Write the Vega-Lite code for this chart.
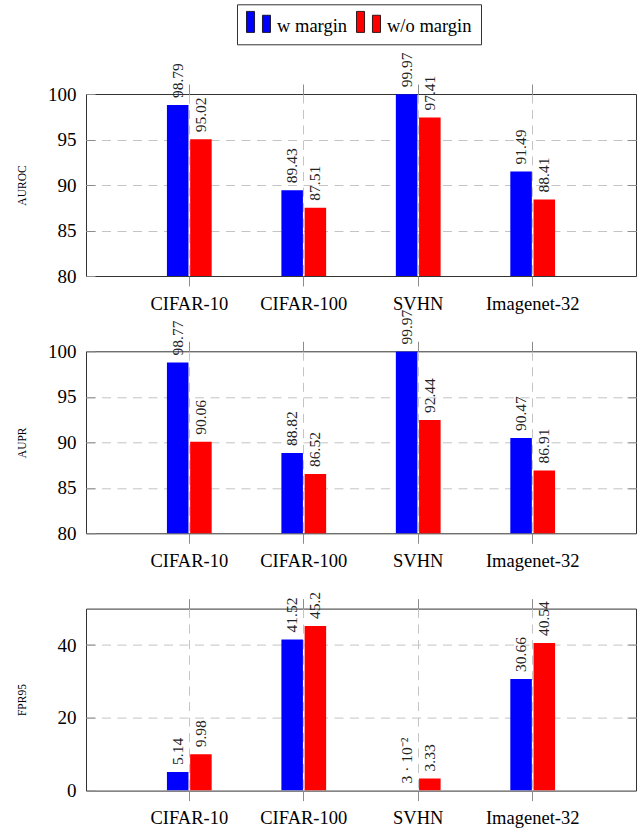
{
  "$schema": "https://vega.github.io/schema/vega-lite/v6.json",
  "padding": {"left": 15, "top": 3, "right": 5, "bottom": 5},
  "bounds": "flush",
  "spacing": 75.3,
  "config": {
    "font": "Liberation Serif",
    "view": {"stroke": "#333333", "strokeWidth": 1},
    "axis": {"labelColor": "black", "titleColor": "black", "titleFontWeight": "normal", "labelFont": "Liberation Serif", "titleFont": "Liberation Serif"},
    "legend": {"labelFont": "Liberation Serif"},
    "text": {"font": "Liberation Serif"}
  },
  "data": {
    "values": [
      {"metric": "AUROC", "dataset": "CIFAR-10", "method": "w margin", "value": 98.79, "label": "98.79"},
      {"metric": "AUROC", "dataset": "CIFAR-10", "method": "w/o margin", "value": 95.02, "label": "95.02"},
      {"metric": "AUROC", "dataset": "CIFAR-100", "method": "w margin", "value": 89.43, "label": "89.43"},
      {"metric": "AUROC", "dataset": "CIFAR-100", "method": "w/o margin", "value": 87.51, "label": "87.51"},
      {"metric": "AUROC", "dataset": "SVHN", "method": "w margin", "value": 99.97, "label": "99.97"},
      {"metric": "AUROC", "dataset": "SVHN", "method": "w/o margin", "value": 97.41, "label": "97.41"},
      {"metric": "AUROC", "dataset": "Imagenet-32", "method": "w margin", "value": 91.49, "label": "91.49"},
      {"metric": "AUROC", "dataset": "Imagenet-32", "method": "w/o margin", "value": 88.41, "label": "88.41"},
      {"metric": "AUPR", "dataset": "CIFAR-10", "method": "w margin", "value": 98.77, "label": "98.77"},
      {"metric": "AUPR", "dataset": "CIFAR-10", "method": "w/o margin", "value": 90.06, "label": "90.06"},
      {"metric": "AUPR", "dataset": "CIFAR-100", "method": "w margin", "value": 88.82, "label": "88.82"},
      {"metric": "AUPR", "dataset": "CIFAR-100", "method": "w/o margin", "value": 86.52, "label": "86.52"},
      {"metric": "AUPR", "dataset": "SVHN", "method": "w margin", "value": 99.97, "label": "99.97"},
      {"metric": "AUPR", "dataset": "SVHN", "method": "w/o margin", "value": 92.44, "label": "92.44"},
      {"metric": "AUPR", "dataset": "Imagenet-32", "method": "w margin", "value": 90.47, "label": "90.47"},
      {"metric": "AUPR", "dataset": "Imagenet-32", "method": "w/o margin", "value": 86.91, "label": "86.91"},
      {"metric": "FPR95", "dataset": "CIFAR-10", "method": "w margin", "value": 5.14, "label": "5.14"},
      {"metric": "FPR95", "dataset": "CIFAR-10", "method": "w/o margin", "value": 9.98, "label": "9.98"},
      {"metric": "FPR95", "dataset": "CIFAR-100", "method": "w margin", "value": 41.52, "label": "41.52"},
      {"metric": "FPR95", "dataset": "CIFAR-100", "method": "w/o margin", "value": 45.2, "label": "45.2"},
      {"metric": "FPR95", "dataset": "SVHN", "method": "w margin", "value": 0.03, "label": "3 · 10⁻²"},
      {"metric": "FPR95", "dataset": "SVHN", "method": "w/o margin", "value": 3.33, "label": "3.33"},
      {"metric": "FPR95", "dataset": "Imagenet-32", "method": "w margin", "value": 30.66, "label": "30.66"},
      {"metric": "FPR95", "dataset": "Imagenet-32", "method": "w/o margin", "value": 40.54, "label": "40.54"}
    ]
  },
  "vconcat": [
    {
      "width": 550, "height": 182,
      "transform": [{"filter": "datum.metric === 'AUROC'"}],
      "encoding": {
        "xOffset": {"field": "method", "type": "nominal", "sort": ["w margin", "w/o margin"], "scale": {"paddingInner": 0.073, "paddingOuter": 0}}
      },
      "layer": [
        {
          "mark": {"type": "bar", "clip": true},
          "encoding": {
            "x": {"field": "dataset", "type": "nominal", "sort": ["CIFAR-10", "CIFAR-100", "SVHN", "Imagenet-32"], "scale": {"paddingInner": 0.609, "paddingOuter": 0.707},
              "axis": {"orient": "bottom", "title": null, "labelAngle": 0, "labelFontSize": 18.5, "labelPadding": 8, "tickSize": 10, "tickColor": "#8c8c8c", "domain": false, "grid": true, "gridDash": [9, 6.5], "gridColor": "#c4c4c4"}},
            "y": {"field": "value", "type": "quantitative", "scale": {"domain": [80, 100], "zero": false, "nice": false},
              "axis": {"orient": "left", "title": "AUROC", "titleFontSize": 11.5, "titleX": -64, "titleBaseline": "middle", "values": [80, 85, 90, 95, 100], "labelFontSize": 19, "labelPadding": 19, "ticks": true, "tickSize": -9, "tickColor": "#8c8c8c", "domain": false, "grid": true, "gridDash": [9, 6.5], "gridColor": "#c4c4c4",
                "gridOpacity": {"condition": {"test": "datum.value === 80 || datum.value === 100", "value": 0}, "value": 1}}},
            "color": {"field": "method", "type": "nominal", "sort": ["w margin", "w/o margin"], "scale": {"domain": ["w margin", "w/o margin"], "range": ["#0000ff", "#ff0000"]},
              "legend": {"title": null, "orient": "none", "legendX": 151, "legendY": -89.7, "direction": "horizontal", "symbolType": "M-1,-1.2H-0.33V0.55H-1Z M0.33,-0.88H1V0.55H0.33Z", "symbolSize": 576, "symbolStrokeColor": "black", "symbolStrokeWidth": 0.8, "symbolOpacity": 1, "labelFont": "Liberation Serif", "labelFontSize": 18.5, "labelColor": "black", "labelOffset": 6, "columnPadding": 6, "padding": 9, "strokeColor": "#333333", "fillColor": "white"}}
          }
        },
        {
          "mark": {"type": "text", "angle": 270, "align": "left", "baseline": "middle", "dx": 7, "font": "Liberation Serif", "fontSize": 15.5, "color": "#222222"},
          "encoding": {
            "x": {"field": "dataset", "type": "nominal", "sort": ["CIFAR-10", "CIFAR-100", "SVHN", "Imagenet-32"],
              "axis": {"orient": "top", "title": null, "labels": false, "tickSize": 10, "tickColor": "#8c8c8c", "domain": false, "grid": false}},
            "y": {"field": "value", "type": "quantitative", "scale": {"domain": [80, 100], "zero": false, "nice": false},
              "axis": {"orient": "right", "title": null, "labels": false, "values": [85, 90, 95], "ticks": true, "tickSize": -9, "tickColor": "#8c8c8c", "domain": false, "grid": false}},
            "text": {"field": "label"}
          }
        }
      ]
    },
    {
      "width": 550, "height": 182,
      "transform": [{"filter": "datum.metric === 'AUPR'"}],
      "encoding": {
        "xOffset": {"field": "method", "type": "nominal", "sort": ["w margin", "w/o margin"], "scale": {"paddingInner": 0.073, "paddingOuter": 0}}
      },
      "layer": [
        {
          "mark": {"type": "bar", "clip": true},
          "encoding": {
            "x": {"field": "dataset", "type": "nominal", "sort": ["CIFAR-10", "CIFAR-100", "SVHN", "Imagenet-32"], "scale": {"paddingInner": 0.609, "paddingOuter": 0.707},
              "axis": {"orient": "bottom", "title": null, "labelAngle": 0, "labelFontSize": 18.5, "labelPadding": 8, "tickSize": 10, "tickColor": "#8c8c8c", "domain": false, "grid": true, "gridDash": [9, 6.5], "gridColor": "#c4c4c4"}},
            "y": {"field": "value", "type": "quantitative", "scale": {"domain": [80, 100], "zero": false, "nice": false},
              "axis": {"orient": "left", "title": "AUPR", "titleFontSize": 11.5, "titleX": -64, "titleBaseline": "middle", "values": [80, 85, 90, 95, 100], "labelFontSize": 19, "labelPadding": 19, "ticks": true, "tickSize": -9, "tickColor": "#8c8c8c", "domain": false, "grid": true, "gridDash": [9, 6.5], "gridColor": "#c4c4c4",
                "gridOpacity": {"condition": {"test": "datum.value === 80 || datum.value === 100", "value": 0}, "value": 1}}},
            "color": {"field": "method", "type": "nominal", "sort": ["w margin", "w/o margin"], "scale": {"domain": ["w margin", "w/o margin"], "range": ["#0000ff", "#ff0000"]},
              "legend": {"title": null, "orient": "none", "legendX": 151, "legendY": -89.7, "direction": "horizontal", "symbolType": "M-1,-1.2H-0.33V0.55H-1Z M0.33,-0.88H1V0.55H0.33Z", "symbolSize": 576, "symbolStrokeColor": "black", "symbolStrokeWidth": 0.8, "symbolOpacity": 1, "labelFont": "Liberation Serif", "labelFontSize": 18.5, "labelColor": "black", "labelOffset": 6, "columnPadding": 6, "padding": 9, "strokeColor": "#333333", "fillColor": "white"}}
          }
        },
        {
          "mark": {"type": "text", "angle": 270, "align": "left", "baseline": "middle", "dx": 7, "font": "Liberation Serif", "fontSize": 15.5, "color": "#222222"},
          "encoding": {
            "x": {"field": "dataset", "type": "nominal", "sort": ["CIFAR-10", "CIFAR-100", "SVHN", "Imagenet-32"],
              "axis": {"orient": "top", "title": null, "labels": false, "tickSize": 10, "tickColor": "#8c8c8c", "domain": false, "grid": false}},
            "y": {"field": "value", "type": "quantitative", "scale": {"domain": [80, 100], "zero": false, "nice": false},
              "axis": {"orient": "right", "title": null, "labels": false, "values": [85, 90, 95], "ticks": true, "tickSize": -9, "tickColor": "#8c8c8c", "domain": false, "grid": false}},
            "text": {"field": "label"}
          }
        }
      ]
    },
    {
      "width": 550, "height": 182,
      "transform": [{"filter": "datum.metric === 'FPR95'"}],
      "encoding": {
        "xOffset": {"field": "method", "type": "nominal", "sort": ["w margin", "w/o margin"], "scale": {"paddingInner": 0.073, "paddingOuter": 0}}
      },
      "layer": [
        {
          "mark": {"type": "bar", "clip": true},
          "encoding": {
            "x": {"field": "dataset", "type": "nominal", "sort": ["CIFAR-10", "CIFAR-100", "SVHN", "Imagenet-32"], "scale": {"paddingInner": 0.609, "paddingOuter": 0.707},
              "axis": {"orient": "bottom", "title": null, "labelAngle": 0, "labelFontSize": 18.5, "labelPadding": 8, "tickSize": 10, "tickColor": "#8c8c8c", "domain": false, "grid": true, "gridDash": [9, 6.5], "gridColor": "#c4c4c4"}},
            "y": {"field": "value", "type": "quantitative", "scale": {"domain": [0, 50], "nice": false},
              "axis": {"orient": "left", "title": "FPR95", "titleFontSize": 11.5, "titleX": -64, "titleBaseline": "middle", "values": [0, 20, 40], "labelFontSize": 19, "labelPadding": 19, "ticks": true, "tickSize": -9, "tickColor": "#8c8c8c", "domain": false, "grid": true, "gridDash": [9, 6.5], "gridColor": "#c4c4c4",
                "gridOpacity": {"condition": {"test": "datum.value === 0", "value": 0}, "value": 1}}},
            "color": {"field": "method", "type": "nominal", "sort": ["w margin", "w/o margin"], "scale": {"domain": ["w margin", "w/o margin"], "range": ["#0000ff", "#ff0000"]},
              "legend": {"title": null, "orient": "none", "legendX": 151, "legendY": -89.7, "direction": "horizontal", "symbolType": "M-1,-1.2H-0.33V0.55H-1Z M0.33,-0.88H1V0.55H0.33Z", "symbolSize": 576, "symbolStrokeColor": "black", "symbolStrokeWidth": 0.8, "symbolOpacity": 1, "labelFont": "Liberation Serif", "labelFontSize": 18.5, "labelColor": "black", "labelOffset": 6, "columnPadding": 6, "padding": 9, "strokeColor": "#333333", "fillColor": "white"}}
          }
        },
        {
          "mark": {"type": "text", "angle": 270, "align": "left", "baseline": "middle", "dx": 7, "font": "Liberation Serif", "fontSize": 15.5, "color": "#222222"},
          "encoding": {
            "x": {"field": "dataset", "type": "nominal", "sort": ["CIFAR-10", "CIFAR-100", "SVHN", "Imagenet-32"],
              "axis": {"orient": "top", "title": null, "labels": false, "tickSize": 10, "tickColor": "#8c8c8c", "domain": false, "grid": false}},
            "y": {"field": "value", "type": "quantitative", "scale": {"domain": [0, 50], "nice": false},
              "axis": {"orient": "right", "title": null, "labels": false, "values": [20, 40], "ticks": true, "tickSize": -9, "tickColor": "#8c8c8c", "domain": false, "grid": false}},
            "text": {"field": "label"}
          }
        }
      ]
    }
  ]
}
